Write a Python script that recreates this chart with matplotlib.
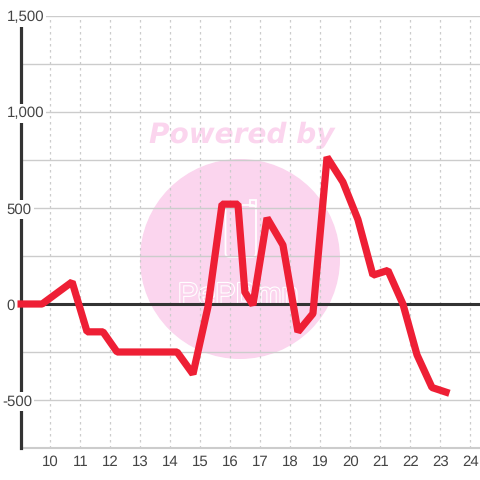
import matplotlib
matplotlib.use('Agg')
import matplotlib.pyplot as plt
import matplotlib.patheffects as pe
from matplotlib.patches import Circle, FancyBboxPatch, Rectangle
from matplotlib.transforms import blended_transform_factory

# values
hours = [8.9, 9.72, 10.72, 11.22, 11.75, 12.22, 14.22, 14.75, 15.25, 15.72, 16.25, 16.48,
         16.75, 17.22, 17.75, 18.25, 18.75, 19.22, 19.75, 20.25, 20.75, 21.25, 21.75,
         22.22, 22.72, 23.3]
values = [0, 0, 115, -145, -145, -250, -250, -365, -15, 520, 520, 62,
          -5, 448, 307, -145, -50, 765, 635, 440, 150, 175, 0,
          -265, -435, -465]
x_ticks = list(range(10, 25))
y_major = [-500, 0, 500, 1000, 1500]
y_labels = ['-500', '0', '500', '1,000', '1,500']
y_minor = [-750, -250, 250, 750, 1250]
logo_text = 'PePBmn'

plt.rcParams['font.family'] = 'Liberation Sans'
plt.rcParams['text.hinting'] = 'no_hinting'
plt.rcParams['text.hinting_factor'] = 1

fig = plt.figure(figsize=(4.8, 4.8), dpi=100)
ax = fig.add_axes([20.5 / 480, 32 / 480, 459.5 / 480, 432 / 480])
ax.set_xlim(9, 24.32)
ax.set_ylim(-750, 1500)

for s in ['top', 'right', 'bottom']:
    ax.spines[s].set_visible(False)
ax.spines['left'].set_linewidth(2.3)
ax.spines['left'].set_color('#333333')
ax.spines['left'].set_zorder(3)

ax.set_axisbelow(True)
ax.set_xticks(x_ticks)
ax.set_yticks(y_major + y_minor)
ax.tick_params(length=0, labelleft=False, labelsize=11, labelcolor='#444444', pad=5)
ax.grid(axis='y', color='#cccccc', lw=1)
ax.grid(axis='x', color='#cccccc', lw=0.9, ls=(0, (2, 2.8)))
ax.axhline(-750, color='#cccccc', lw=1.5, clip_on=False, zorder=1)
ax.axhline(0, color='#333333', lw=2.2, zorder=3)

# y labels sit on white boxes over the axis line
label_trans = blended_transform_factory(fig.transFigure, ax.transData)
for v, lab in zip(y_major, y_labels):
    px = 2 if lab.startswith('-') else 6.5
    ax.text(px / 480, v, lab, transform=label_trans, fontsize=11, color='#444444',
            va='center_baseline', ha='left', zorder=4, clip_on=False,
            bbox=dict(fc='white', ec='none', pad=1.5))

ax.plot(hours, values, color='#ee1f35', lw=5.2, solid_joinstyle='bevel',
        solid_capstyle='butt', clip_on=False, zorder=5)

# watermark goes under the chart axes
pink = '#fbd5ee'
ov = fig.add_axes([0, 0, 1, 1])
ov.set_xlim(0, 480)
ov.set_ylim(480, 0)
ov.axis('off')
ov.add_patch(Circle((240, 259), 100, fc=pink, ec='none', zorder=1))
ov.text(241.5, 135, 'Powered by', color=pink, fontsize=20.4, family='DejaVu Sans',
        fontweight='bold', fontstyle='italic', ha='center', va='center', zorder=2)
ov.add_patch(FancyBboxPatch((225.5, 205), 30.5, 52, boxstyle='round,pad=0,rounding_size=4',
                            fc='none', ec='white', lw=1.3, zorder=2))
ov.add_patch(Rectangle((250, 200), 6, 6, fc='none', ec='white', lw=1.3, zorder=2))
ov.text(239, 304, logo_text, color=pink, fontsize=22, ha='center', va='baseline', zorder=2,
        path_effects=[pe.withStroke(linewidth=1.6, foreground='white')])
ov.set_zorder(0)
ax.set_zorder(1)
ax.patch.set_alpha(0)

plt.savefig('out.png', dpi=100)
